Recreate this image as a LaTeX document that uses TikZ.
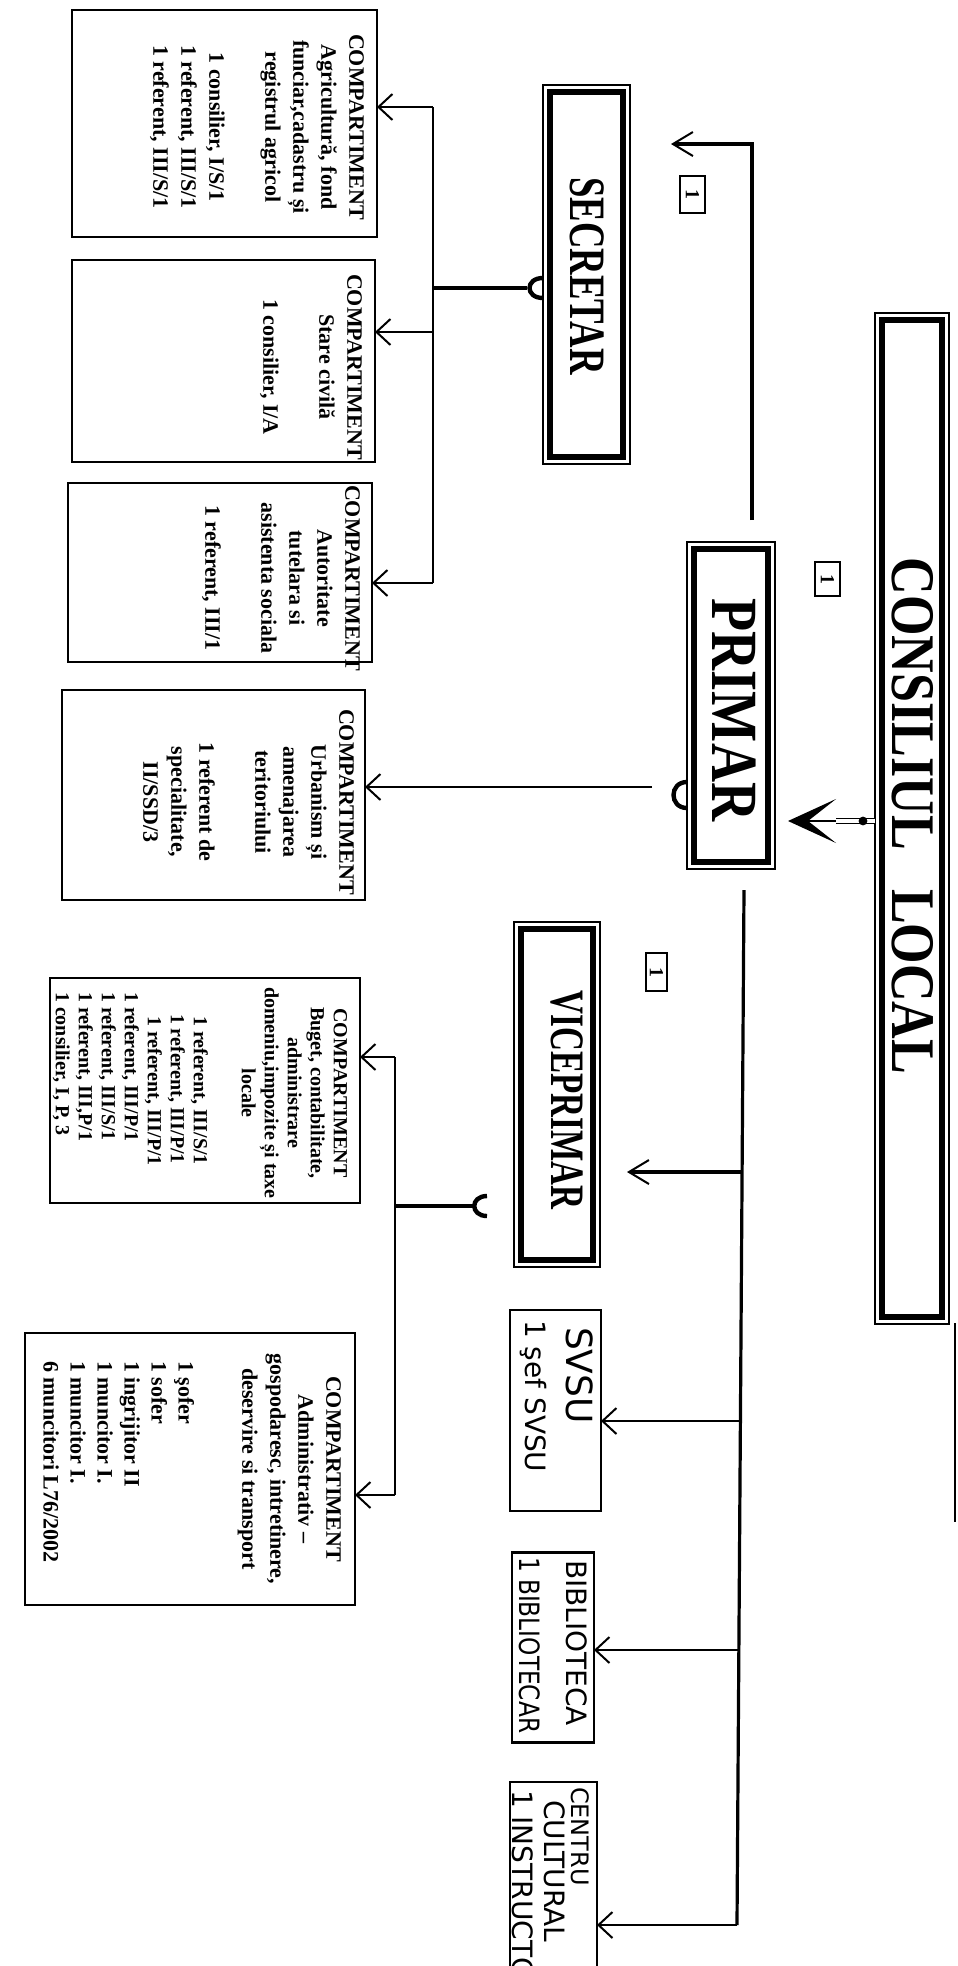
\documentclass[tikz,border=0pt]{standalone}
\usepackage{fontspec}
\setmainfont{Liberation Serif}
\newfontfamily\hand{DejaVu Sans}
\usetikzlibrary{arrows.meta}
\begin{document}
\begin{tikzpicture}[x=0.5pt,y=-0.5pt,
  every node/.style={inner sep=0pt, outer sep=0pt},
  cbox/.style={draw, line width=1.1pt, rotate=-90},
  thinbox/.style={draw, line width=0.6pt, rotate=-90},
  thickbox/.style={draw, line width=2.6pt, rotate=-90},
  onebox/.style={draw, line width=0.8pt, rotate=-90, font=\bfseries\fontsize{10}{10}\selectfont},
  ctext/.style={rotate=-90, font=\bfseries\fontsize{11}{14}\selectfont, align=center, anchor=north},
  stext/.style={rotate=-90, font=\bfseries\fontsize{10}{11.5}\selectfont, align=left, anchor=north west},
  htext/.style={rotate=-90, font=\hand\fontsize{14}{14}\selectfont, anchor=west},
  mainline/.style={line width=1.6pt},
  subline/.style={line width=1.1pt},
  bigtip/.style={-{Straight Barb[length=10pt,width=12pt,line width=1pt]}},
  harrow/.style={-{Straight Barb[length=7pt,width=13pt,line width=1pt]}},
  hook/.style={line width=2.2pt}
]
\useasboundingbox (0,0) rectangle (958,1966);

% ---------- CONSILIUL LOCAL ----------
\node[thinbox, minimum width=505.5pt, minimum height=37pt] (clo) at (912,818.5) {};
\node[draw, line width=3pt, rotate=-90, minimum width=498.5pt, minimum height=30pt] (cli) at (912,818.5) {};
\node[rotate=-90, font=\bfseries\fontsize{31}{31}\selectfont] (clt) at (913,816) {\scalebox{0.84}[1]{CONSILIUL\hspace{0.5em} LOCAL}};

% ---------- PRIMAR ----------
\node[thinbox, minimum width=163.5pt, minimum height=44pt] (primo) at (731,705.5) {};
\node[thickbox, minimum width=156.5pt, minimum height=37pt] (prim) at (731,705.5) {};
\node[rotate=-90, font=\bfseries\fontsize{33}{33}\selectfont] (primt) at (734,710) {\scalebox{0.82}[1]{PRIMAR}};

% ---------- SECRETAR ----------
\node[thinbox, minimum width=189.5pt, minimum height=43.5pt] (seco) at (586.5,274.5) {};
\node[thickbox, minimum width=182.5pt, minimum height=36.5pt] (sec) at (586.5,274.5) {};
\node[rotate=-90, font=\bfseries\fontsize{25.5}{25.5}\selectfont] (sect) at (587,276) {\scalebox{0.72}[1]{SECRETAR}};

% ---------- VICEPRIMAR ----------
\node[thinbox, minimum width=172.5pt, minimum height=43pt] (vpo) at (557,1094.5) {};
\node[thickbox, minimum width=165.5pt, minimum height=36pt] (vp) at (557,1094.5) {};
\node[rotate=-90, font=\bfseries\fontsize{24}{24}\selectfont] (vpt) at (567,1100) {\scalebox{0.69}[1]{VICEPRIMAR}};

% ---------- "1" boxes ----------
\node[onebox, minimum width=18.5pt, minimum height=12.5pt] (n1s) at (692.5,194.5) {1};
\node[onebox, minimum width=17pt, minimum height=12.5pt] (n1p) at (827.5,579) {1};
\node[onebox, minimum width=19pt, minimum height=10.5pt] (n1v) at (656.5,972) {1};

% ---------- Compartments ----------
\node[cbox, minimum width=113.5pt, minimum height=152.5pt] (c1) at (224.5,123.5) {};
\node[ctext] (c1t) at (364,127) {COMPARTIMENT\\ Agricultură, fond\\ funciar,cadastru și\\ registrul agricol\\[14pt] 1 consilier, I/S/1\\ 1 referent, III/S/1\\ 1 referent, III/S/1};

\node[cbox, minimum width=101pt, minimum height=151.5pt] (c2) at (223.5,361) {};
\node[ctext] (c2t) at (362,367) {COMPARTIMENT\\ Stare civilă\\[14pt] 1 consilier, I/A};

\node[cbox, minimum width=89.5pt, minimum height=152pt] (c3) at (220,572.5) {};
\node[ctext] (c3t) at (360,578) {COMPARTIMENT\\ Autoritate\\ tutelara si\\ asistenta sociala\\[14pt] 1 referent, III/1};

\node[cbox, minimum width=105pt, minimum height=151.5pt] (c4) at (213.5,795) {};
\node[ctext] (c4t) at (354,802) {COMPARTIMENT\\ Urbanism și\\ amenajarea\\ teritoriului\\[14pt] 1 referent de\\ specialitate,\\ II/SSD/3};

\node[cbox, minimum width=112.5pt, minimum height=155pt] (c5) at (205,1090.5) {};
\node[ctext, font=\bfseries\fontsize{10}{11.5}\selectfont] (c5t) at (347,1093) {COMPARTIMENT\\ Buget, contabilitate,\\ administrare\\ domeniu,impozite și taxe\\ locale};
\node[stext] (c5s) at (208,992) {\hspace*{12pt}1 referent, III/S/1\\ \hspace*{11pt}1 referent, III/P/1\\ \hspace*{12pt}1 referent, III/P/1\\ 1 referent, III/P/1\\ 1 referent, III/S/1\\ 1 referent, III,P/1\\ 1 consilier, I, P, 3};

\node[cbox, minimum width=136pt, minimum height=165pt] (c6) at (190,1469) {};
\node[ctext] (c6t) at (341,1469) {COMPARTIMENT\\ Administrativ --\\ gospodaresc, intretinere,\\ deservire si transport};
\node[stext, font=\bfseries\fontsize{11}{13.5}\selectfont] (c6s) at (194,1361) {1 şofer\\ 1 sofer\\ 1 ingrijitor II\\ 1 muncitor I.\\ 1 muncitor I.\\ 6 muncitori L76/2002};

% ---------- handwritten boxes ----------
\node[cbox, minimum width=100.5pt, minimum height=45.5pt] (svsu) at (555.5,1410.5) {};
\node[htext, font=\hand\fontsize{18}{18}\selectfont] (svsu1) at (580,1327) {SVSU};
\node[htext] (svsu2) at (533,1320) {1 şef SVSU};

\node[cbox, minimum width=95pt, minimum height=41pt] (bib) at (553,1647.5) {};
\node[htext] (bib1) at (577,1560) {BIBLIOTECA};
\node[htext] (bib2) at (530,1557) {\scalebox{0.83}[1]{1 BIBLIOTECAR}};

\node[cbox, minimum width=120pt, minimum height=43.5pt] (cen) at (553.5,1902) {};
\node[htext, font=\hand\fontsize{12}{12}\selectfont] (cen1) at (580,1787) {CENTRU};
\node[htext] (cen2) at (555,1800) {CULTURAL};
\node[htext] (cen3) at (523,1790) {1 INSTRUCTOR};

% ---------- connectors ----------
% Consiliul -> Primar (double line)
\coordinate (clL) at (clo.south |- 0,821);
\coordinate (clD) at (863,821);
\coordinate (pTip) at (788,821);
\coordinate (pBack) at (836,821);
\draw[line width=0.8pt, -{Stealth[length=24pt,width=22pt,inset=14pt]}] (clL) -- (pTip);
\draw[line width=0.8pt, double distance=1.8pt] (clL) -- (pBack);
\fill (clD) circle[radius=2.2pt];

% Primar -> Secretar
\coordinate (pt0) at (752,520);
\coordinate (pt1) at (752,144);
\coordinate (stip) at (671,144);
\draw[mainline, bigtip] (pt0) -- (pt1) -- (stip);

% Primar -> Urbanism
\draw[hook] (primo.south |- 0,782) .. controls (669,782) and (669,808) .. (primo.south |- 0,808);
\coordinate (pu0) at (652,787);
\draw[subline, harrow] (pu0) -- (pu0 -| c4.north);

% Secretar -> compartments
\draw[hook] (seco.south |- 0,278) .. controls (525,278) and (525,298) .. (seco.south |- 0,298);
\coordinate (sh) at (527,288);
\coordinate (sb0) at (433,288);
\coordinate (sb1) at (433,107);
\coordinate (sb2) at (433,332);
\coordinate (sb3) at (433,583);
\draw[mainline] (sh) -- (sb0);
\draw[subline] (sb1) -- (sb3);
\draw[subline, harrow] (sb1) -- (sb1 -| c1.north);
\draw[subline, harrow] (sb2) -- (sb2 -| c2.north);
\draw[subline, harrow] (sb3) -- (sb3 -| c3.north);

% Primar bottom bus
\coordinate (pb0) at (744,890);
\coordinate (pb1) at (742,1172);
\coordinate (pb2) at (740,1421);
\coordinate (pb3) at (738,1650);
\coordinate (pb4) at (737,1925);
\draw[mainline] (pb0) -- (pb4);
\draw[mainline, bigtip] (pb1) -- (627,1172);
\draw[subline, harrow] (pb2) -- (pb2 -| svsu.north);
\draw[subline, harrow] (pb3) -- (pb3 -| bib.north);
\draw[subline, harrow] (pb4) -- (pb4 -| cen.north);

% Viceprimar -> compartments
\draw[hook] (487,1196) .. controls (470,1196) and (470,1216) .. (487,1216);
\coordinate (vh) at (473,1206);
\coordinate (vb0) at (395,1206);
\coordinate (vb1) at (395,1057);
\coordinate (vb2) at (395,1495);
\draw[mainline] (vh) -- (vb0);
\draw[subline] (vb1) -- (vb2);
\draw[subline, harrow] (vb1) -- (vb1 -| c5.north);
\draw[subline, harrow] (vb2) -- (vb2 -| c6.north);

% edge line at right border
\coordinate (e0) at (955,1323);
\coordinate (e1) at (955,1522);
\draw[line width=1pt] (e0) -- (e1);
\end{tikzpicture}
\end{document}
